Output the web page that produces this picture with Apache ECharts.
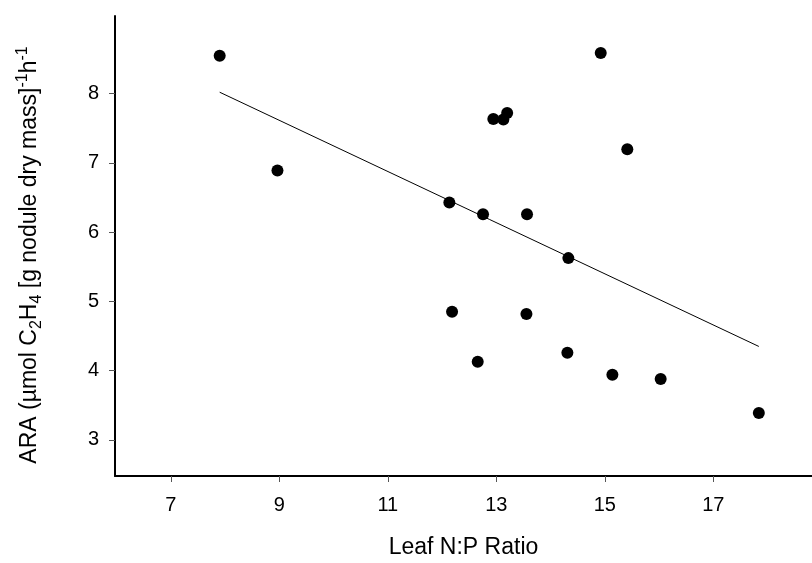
<!DOCTYPE html>
<html>
<head>
<meta charset="utf-8">
<script src="https://cdn.jsdelivr.net/npm/echarts@6/dist/echarts.min.js"></script>
<style>
html,body{margin:0;padding:0;background:#fff;}
#chart{width:812px;height:563px;}
</style>
</head>
<body>
<div id="chart"></div>
<script>
// Leaf N:P ratio (x) and ARA (y) for each plant
const npRatio = [7.90, 8.965, 14.925, 12.945, 13.13, 13.20, 15.415, 12.134, 12.755, 13.566, 14.328, 12.184, 13.555, 12.657, 14.31, 15.14, 16.03, 17.84];
const ara     = [8.546, 6.89, 8.586, 7.634, 7.626, 7.72, 7.197, 6.428, 6.26, 6.26, 5.625, 4.85, 4.817, 4.13, 4.26, 3.94, 3.88, 3.39];
// fitted regression line end points
const fitX = [7.90, 17.84];
const fitY = [8.02, 4.35];
// tick labels
const xTicks = [7, 9, 11, 13, 15, 17];
const yTicks = [3, 4, 5, 6, 7, 8];

const FONT = "'Liberation Sans', Arial, Helvetica, sans-serif";
const chart = echarts.init(document.getElementById('chart'), null, {renderer: 'canvas'});

const points = npRatio.map((x, i) => [x, ara[i]]);
const fitLine = fitX.map((x, i) => [x, fitY[i]]);

chart.setOption({
  animation: false,
  backgroundColor: '#ffffff',
  textStyle: {fontFamily: FONT},
  grid: {left: 115, right: 0, top: 16, bottom: 87, containLabel: false, outerBoundsMode: 'none'},
  xAxis: {
    type: 'value',
    min: 5.97,
    max: 18.82,
    name: 'Leaf N:P Ratio',
    nameLocation: 'middle',
    nameGap: 60,
    nameTextStyle: {fontSize: 23, color: '#000', fontFamily: FONT},
    axisLine: {show: true, lineStyle: {color: '#000', width: 2}},
    axisTick: {show: true, length: 6, customValues: xTicks, lineStyle: {color: '#555', width: 1}},
    axisLabel: {show: true, customValues: xTicks, margin: 19, fontSize: 20, color: '#000', fontFamily: FONT},
    splitLine: {show: false}
  },
  yAxis: {
    type: 'value',
    min: 2.48,
    max: 9.12,
    name: '{n|ARA (µmol C}{sub|2}{n|H}{sub|4}{n| [g nodule dry mass]}{sup|-1}{n|h}{sup|-1}',
    nameLocation: 'middle',
    nameRotate: 90,
    nameGap: 70,
    nameTextStyle: {
      color: '#000',
      fontFamily: FONT,
      padding: [0, 18, 0, 0],
      rich: {
        n: {fontSize: 23, lineHeight: 30, color: '#000', fontFamily: FONT},
        sub: {fontSize: 16, lineHeight: 12, verticalAlign: 'bottom', color: '#000', fontFamily: FONT},
        sup: {fontSize: 16, lineHeight: 12, verticalAlign: 'top', color: '#000', fontFamily: FONT}
      }
    },
    axisLine: {show: true, lineStyle: {color: '#000', width: 2}},
    axisTick: {show: true, length: 6, customValues: yTicks, lineStyle: {color: '#555', width: 1}},
    axisLabel: {show: true, customValues: yTicks, margin: 16, fontSize: 20, color: '#000', fontFamily: FONT},
    splitLine: {show: false}
  },
  series: [
    {
      type: 'line',
      data: fitLine,
      showSymbol: false,
      symbol: 'none',
      lineStyle: {color: '#000', width: 1},
      silent: true,
      z: 1
    },
    {
      type: 'scatter',
      data: points,
      symbol: 'circle',
      symbolSize: 12,
      itemStyle: {color: '#000', opacity: 1},
      z: 2
    }
  ]
});
</script>
</body>
</html>
